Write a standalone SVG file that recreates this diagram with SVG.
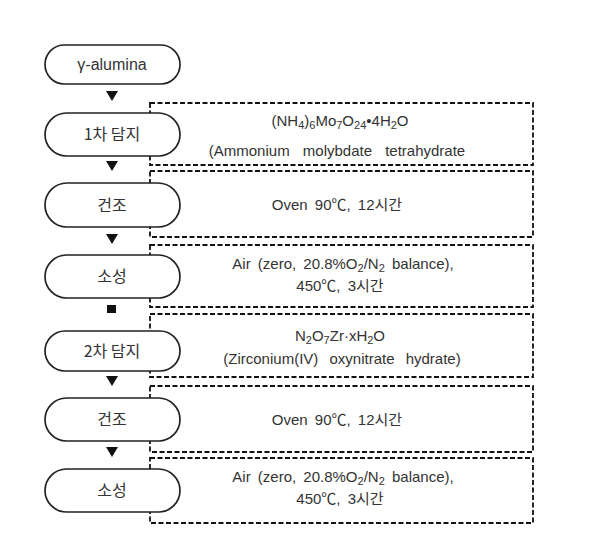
<svg xmlns="http://www.w3.org/2000/svg" width="602" height="536" viewBox="0 0 602 536">
<style>
.box{fill:none;stroke:#111;stroke-width:1.8;stroke-dasharray:5 2.5}
.pill{fill:#fff;stroke:#222;stroke-width:1.7}
.t{font-family:"Liberation Sans","Noto Sans CJK KR",sans-serif;font-size:15px;fill:#333;text-anchor:middle;word-spacing:3px}
.k{font-family:"Noto Sans CJK KR","Liberation Sans",sans-serif;font-size:16px;fill:#333;text-anchor:middle}
.s{font-size:11px}
.ar{fill:#111}
</style>
<rect width="602" height="536" fill="#fff"/>
<g id="connectors">
<polygon class="ar" points="106,91 118,91 112,101"/>
<polygon class="ar" points="106,161 118,161 112,171"/>
<polygon class="ar" points="106,234 118,234 112,244"/>
<rect class="ar" x="107" y="305" width="9" height="8"/>
<polygon class="ar" points="106,376 118,376 112,386"/>
<polygon class="ar" points="106,447 118,447 112,457"/>
</g>
<g id="cond1"><rect class="box" x="150" y="103" width="383" height="62"/>
<text class="t" x="340" y="126">(NH<tspan class="s" dy="3">4</tspan><tspan dy="-3">)</tspan><tspan class="s" dy="3">6</tspan><tspan dy="-3">Mo</tspan><tspan class="s" dy="3">7</tspan><tspan dy="-3">O</tspan><tspan class="s" dy="3">24</tspan><tspan dy="-3">•4H</tspan><tspan class="s" dy="3">2</tspan><tspan dy="-3">O</tspan></text>
<text class="t" x="337" y="156" style="word-spacing:9px">(Ammonium molybdate tetrahydrate</text></g>
<g id="cond2"><rect class="box" x="150" y="171" width="383" height="66"/>
<text class="t" x="337" y="210">Oven 90℃, 12시간</text></g>
<g id="cond3"><rect class="box" x="150" y="245" width="383" height="62"/>
<text class="t" x="343" y="269">Air (zero, 20.8%O<tspan class="s" dy="3">2</tspan><tspan dy="-3">/N</tspan><tspan class="s" dy="3">2</tspan><tspan dy="-3"> balance),</tspan></text>
<text class="t" x="340" y="291">450℃, 3시간</text></g>
<g id="cond4"><rect class="box" x="150" y="314" width="383" height="63"/>
<text class="t" x="340" y="341">N<tspan class="s" dy="3">2</tspan><tspan dy="-3">O</tspan><tspan class="s" dy="3">7</tspan><tspan dy="-3">Zr·xH</tspan><tspan class="s" dy="3">2</tspan><tspan dy="-3">O</tspan></text>
<text class="t" x="342" y="364" style="word-spacing:7px">(Zirconium(IV) oxynitrate hydrate)</text></g>
<g id="cond5"><rect class="box" x="150" y="386" width="383" height="66"/>
<text class="t" x="337" y="425">Oven 90℃, 12시간</text></g>
<g id="cond6"><rect class="box" x="150" y="458" width="383" height="65"/>
<text class="t" x="343" y="482">Air (zero, 20.8%O<tspan class="s" dy="3">2</tspan><tspan dy="-3">/N</tspan><tspan class="s" dy="3">2</tspan><tspan dy="-3"> balance),</tspan></text>
<text class="t" x="340" y="504">450℃, 3시간</text></g>
<g id="n1"><rect class="pill" x="45" y="45" width="135" height="39" rx="19.5"/><text class="t" x="112" y="70" style="font-size:16px">γ-alumina</text></g>
<g id="n2"><rect class="pill" x="45" y="113" width="135" height="43" rx="21.5"/><text class="k" x="112" y="140">1차 담지</text></g>
<g id="n3"><rect class="pill" x="45" y="183" width="135" height="44" rx="22"/><text class="k" x="112" y="211">건조</text></g>
<g id="n4"><rect class="pill" x="45" y="255" width="135" height="43" rx="21.5"/><text class="k" x="112" y="282">소성</text></g>
<g id="n5"><rect class="pill" x="45" y="331" width="135" height="40" rx="20"/><text class="k" x="112" y="357">2차 담지</text></g>
<g id="n6"><rect class="pill" x="45" y="398" width="135" height="43" rx="21.5"/><text class="k" x="112" y="425">건조</text></g>
<g id="n7"><rect class="pill" x="45" y="469" width="135" height="43" rx="21.5"/><text class="k" x="112" y="496">소성</text></g>
</svg>
